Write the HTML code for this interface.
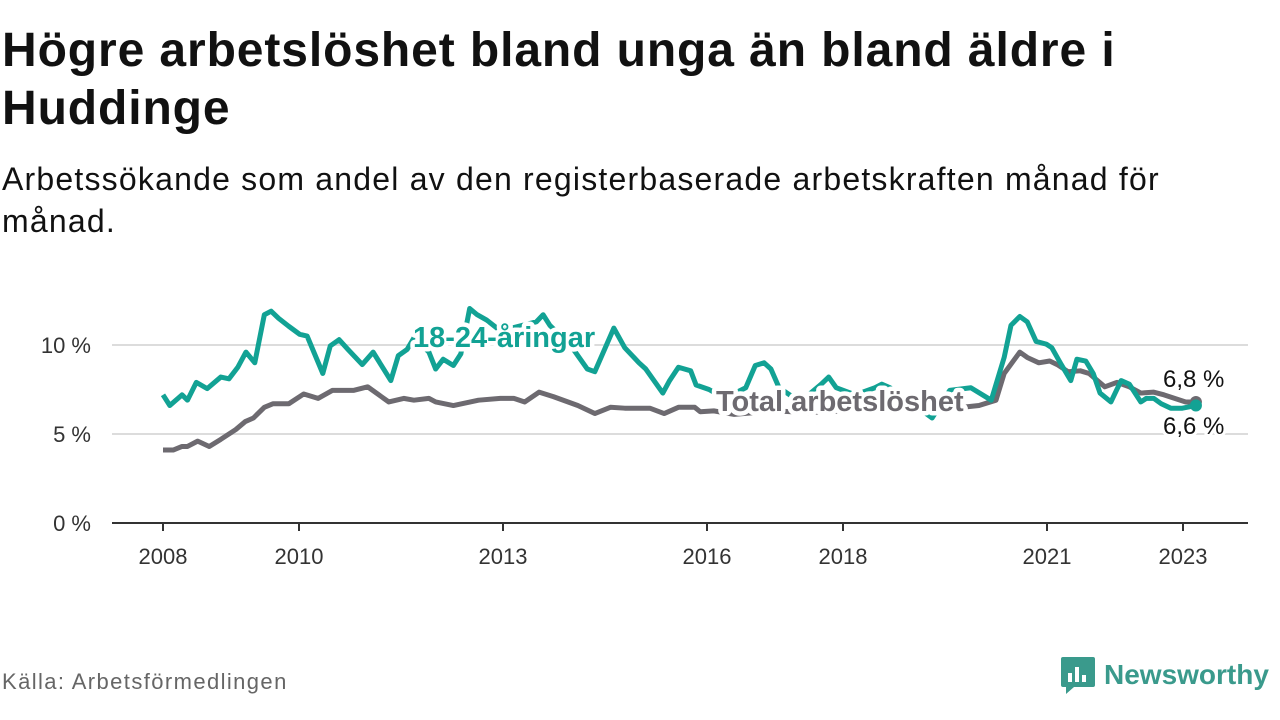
<!DOCTYPE html>
<html><head><meta charset="utf-8">
<style>
body{margin:0;width:1280px;height:720px;background:#fff;font-family:"Liberation Sans",sans-serif;overflow:hidden;position:relative;color:#111}
h1{position:absolute;left:2px;top:22px;margin:0;font-size:48px;line-height:58px;font-weight:bold;letter-spacing:0.9px;width:1180px}
.sub{position:absolute;left:2px;top:158px;margin:0;font-size:32px;line-height:42px;letter-spacing:1.2px;width:1200px}
.src{position:absolute;left:2px;top:669px;font-size:22px;letter-spacing:1.4px;color:#666}
.logo{position:absolute;left:1060px;top:655px;display:flex;align-items:center}
.logo span{font-size:28px;font-weight:bold;color:#3a9a8c;margin-left:8px}
</style></head><body>
<h1>Högre arbetslöshet bland unga än bland äldre i Huddinge</h1>
<p class="sub">Arbetssökande som andel av den registerbaserade arbetskraften månad för månad.</p>
<svg id="chart" width="1280" height="720" style="position:absolute;left:0;top:0"></svg>
<div class="src">Källa: Arbetsförmedlingen</div>
<div class="logo">
<svg width="36" height="40" viewBox="0 0 36 40"><path d="M3 2h30a2 2 0 0 1 2 2v26a2 2 0 0 1-2 2H14l-8 7v-7H3a2 2 0 0 1-2-2V4a2 2 0 0 1 2-2z" fill="#3a9a8c"/><rect x="8" y="18" width="4" height="9" fill="#fff"/><rect x="15" y="12" width="4" height="15" fill="#fff"/><rect x="22" y="20" width="4" height="7" fill="#fff"/></svg>
<span>Newsworthy</span></div>
<script>
const yTicks=[0,5,10];
const yTickLabels=["0 %","5 %","10 %"];
const xTicks=[2008,2010,2013,2016,2018,2021,2023];
const youngDates=[2008.0,2008.1,2008.28,2008.36,2008.49,2008.65,2008.85,2008.97,2009.1,2009.22,2009.35,2009.49,2009.59,2009.7,2009.85,2010.01,2010.12,2010.35,2010.46,2010.59,2010.72,2010.93,2011.09,2011.35,2011.46,2011.59,2011.69,2011.91,2012.01,2012.12,2012.27,2012.38,2012.51,2012.62,2012.76,2012.96,2013.18,2013.49,2013.59,2013.69,2013.99,2014.24,2014.35,2014.63,2014.79,2015.0,2015.1,2015.35,2015.45,2015.58,2015.76,2015.84,2016.03,2016.26,2016.57,2016.71,2016.84,2016.94,2017.06,2017.37,2017.68,2017.79,2017.9,2018.18,2018.47,2018.57,2018.69,2018.99,2019.31,2019.57,2019.88,2020.18,2020.37,2020.47,2020.6,2020.71,2020.84,2020.99,2021.07,2021.21,2021.35,2021.44,2021.57,2021.68,2021.78,2021.94,2022.09,2022.21,2022.38,2022.46,2022.57,2022.68,2022.82,2022.99,2023.19];
const youngValues=[7.2,6.6,7.2,6.9,7.9,7.55,8.2,8.1,8.75,9.6,9.0,11.7,11.9,11.5,11.05,10.6,10.5,8.4,9.95,10.3,9.75,8.9,9.6,8.0,9.4,9.75,10.4,9.6,8.65,9.2,8.85,9.5,12.05,11.7,11.4,10.8,11.0,11.3,11.7,11.1,10.0,8.65,8.5,10.95,9.85,9.0,8.65,7.3,8.0,8.75,8.55,7.75,7.5,7.0,7.6,8.85,9.0,8.65,7.6,6.8,7.8,8.2,7.6,7.2,7.6,7.8,7.6,6.8,5.9,7.45,7.6,6.9,9.3,11.1,11.6,11.3,10.2,10.05,9.85,8.9,8.0,9.2,9.1,8.4,7.3,6.8,8.0,7.8,6.8,7.0,7.0,6.7,6.45,6.45,6.6];
const totalDates=[2008.0,2008.15,2008.28,2008.36,2008.51,2008.68,2008.85,2009.07,2009.21,2009.33,2009.49,2009.62,2009.85,2010.07,2010.28,2010.49,2010.8,2011.01,2011.32,2011.54,2011.69,2011.91,2012.01,2012.27,2012.64,2012.96,2013.16,2013.32,2013.53,2013.74,2014.1,2014.35,2014.58,2014.79,2015.16,2015.37,2015.58,2015.82,2015.9,2016.1,2016.4,2017.0,2017.5,2018.0,2018.5,2019.0,2019.5,2020.0,2020.25,2020.37,2020.6,2020.71,2020.88,2021.04,2021.15,2021.31,2021.49,2021.62,2021.85,2022.03,2022.21,2022.38,2022.57,2022.72,2023.04,2023.19];
const totalValues=[4.1,4.1,4.3,4.3,4.6,4.3,4.7,5.25,5.7,5.9,6.5,6.7,6.7,7.25,7.0,7.45,7.45,7.65,6.8,7.0,6.9,7.0,6.8,6.6,6.9,7.0,7.0,6.8,7.35,7.1,6.6,6.15,6.5,6.45,6.45,6.15,6.5,6.5,6.25,6.3,6.1,6.3,6.2,6.3,6.4,6.3,6.4,6.6,6.9,8.4,9.6,9.3,9.0,9.1,8.9,8.5,8.55,8.4,7.65,7.9,7.65,7.3,7.35,7.2,6.8,6.8];
const endLabels=["6,8 %","6,6 %"];

const NS="http://www.w3.org/2000/svg";
const svg=document.getElementById('chart');
const X=v=>163+(v-2008)*68;
const Y=v=>523-v*17.8;
function mk(t,a,parent){const e=document.createElementNS(NS,t);for(const k in a)e.setAttribute(k,a[k]);(parent||svg).appendChild(e);return e;}
yTicks.forEach((t,i)=>{
  if(t>0){const g=mk('line',{x1:112,x2:1248,y1:Y(t),y2:Y(t),stroke:'#dcdcdc','stroke-width':2});
  
  }
  const l=mk('text',{x:91,y:Y(t)+8,'text-anchor':'end','font-size':22,fill:'#333'});
  l.textContent=yTickLabels[i];
  
  
});
const ax=mk('line',{x1:112,x2:1248,y1:523,y2:523,stroke:'#333','stroke-width':2});


xTicks.forEach(t=>{
  const tk=mk('line',{x1:X(t),x2:X(t),y1:523,y2:531,stroke:'#333','stroke-width':2});
  
  
  const l=mk('text',{x:X(t),y:564,'text-anchor':'middle','font-size':22,fill:'#333'});
  l.textContent=t;
  
  
});
function line(d,v,c,name){
  const p=mk('polyline',{points:d.map((x,i)=>X(x)+','+Y(v[i])).join(' '),fill:'none',stroke:c,'stroke-width':5,'stroke-linejoin':'round'});
  
  
}
const teal='#12a294',gray='#6d6a70';
line(totalDates,totalValues,gray,'total-line');
line(youngDates,youngValues,teal,'youth-line');
const d1=mk('circle',{cx:X(totalDates[totalDates.length-1]),cy:Y(totalValues[totalValues.length-1]),r:6,fill:gray});


const d2=mk('circle',{cx:X(youngDates[youngDates.length-1]),cy:Y(youngValues[youngValues.length-1]),r:6,fill:teal});


function lab(txt,x,y,c,fs,bold,name){
  const t=mk('text',{x:x,y:y,fill:c,'font-size':fs,'font-weight':bold?'bold':'normal',stroke:'#fff','stroke-width':bold?9:6,'paint-order':'stroke','stroke-linejoin':'round'});
  t.textContent=txt;
  
  
}
lab('18-24-åringar',413,347,teal,29,true,'youth-series-label');
lab('Total arbetslöshet',716,411,gray,29,true,'total-series-label');
lab(endLabels[0],1163,387,'#111',24,false,'total-end-label');
lab(endLabels[1],1163,434,'#111',24,false,'youth-end-label');
</script>
</body></html>
